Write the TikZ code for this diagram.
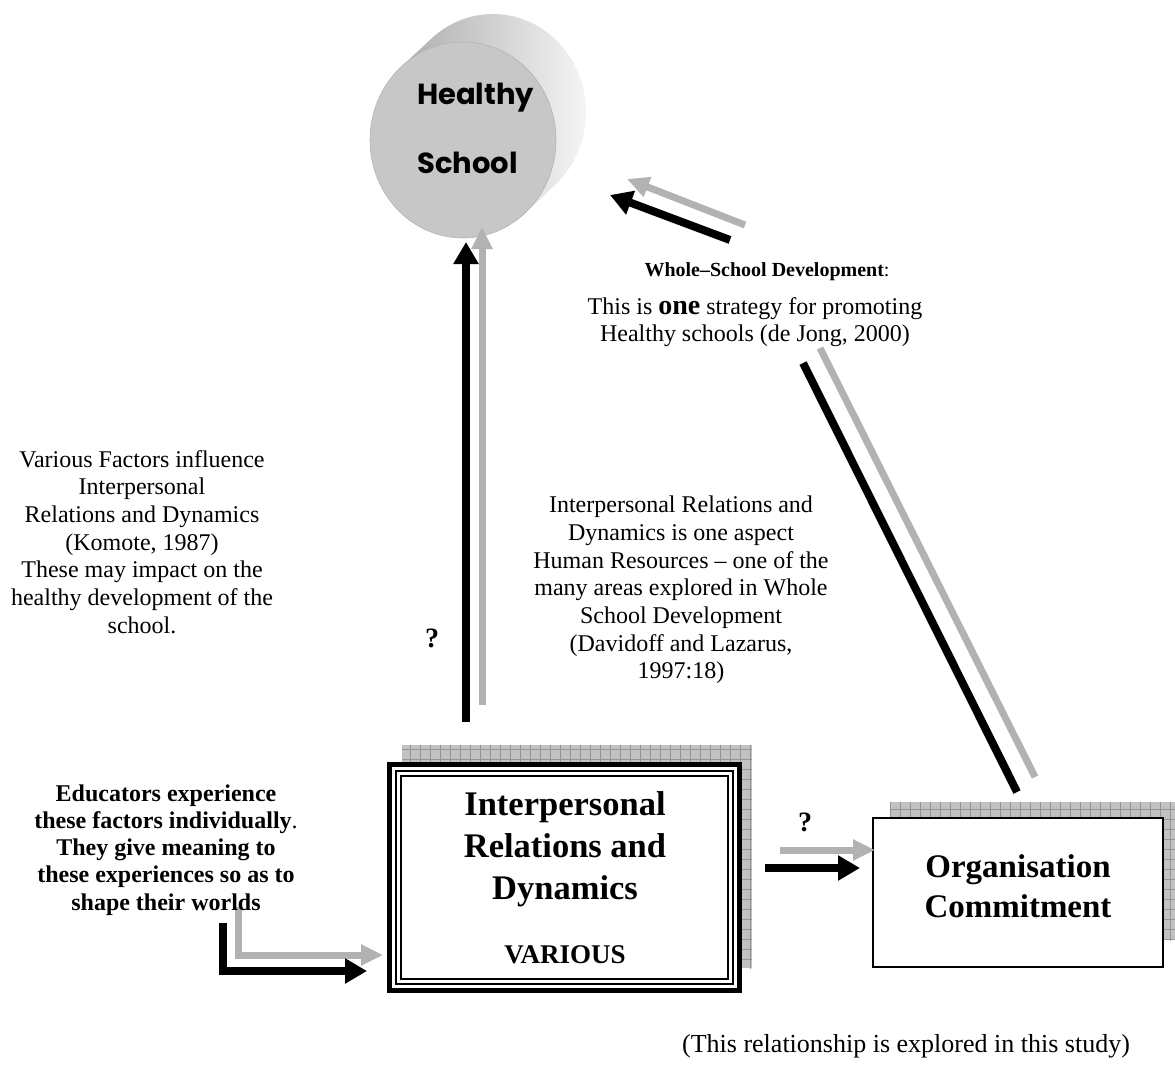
\documentclass[tikz,border=0pt]{standalone}
\usepackage{fontspec}
\setmainfont{Liberation Serif}
\newfontfamily\comicf{Poppins}
\usetikzlibrary{arrows.meta,patterns.meta}
\begin{document}
\begin{tikzpicture}[x=1pt,y=-1pt,
  blk/.style={line width=8pt, draw=black, -{Triangle[width=24pt,length=22pt]}},
  gry/.style={line width=7pt, draw=black!30, -{Triangle[width=20pt,length=22pt]}},
  blkline/.style={line width=8pt, draw=black},
  gryline/.style={line width=7pt, draw=black!30},
  shadowbox/.style={fill=black!24, postaction={pattern={Hatch[angle=0,distance=10pt,line width=0.5pt]}, pattern color=black!42}},
  txt/.style={align=center, inner sep=0pt, font=\fontsize{24}{27.7}\selectfont},
  btxt/.style={align=center, inner sep=0pt, font=\fontsize{24}{27.2}\selectfont\bfseries},
  bigtxt/.style={align=center, inner sep=0pt, font=\fontsize{34.5}{42}\selectfont\bfseries},
  hstxt/.style={anchor=west, inner sep=0pt, font=\fontsize{29}{32}\selectfont\comicf\bfseries},
  qmark/.style={inner sep=0pt, font=\fontsize{28}{28}\selectfont\bfseries}
]
\useasboundingbox (0,0) rectangle (1175,1079);

% ---------- Healthy School cylinder ----------
\shade[left color=black!32, right color=black!4]
  plot[domain=228.5:408.5, samples=80] ({493+93*cos(\x)}, {112+98*sin(\x)})
  -- plot[domain=408.5:228.5, samples=80] ({463+93*cos(\x)}, {140+98*sin(\x)}) -- cycle;
\fill[black!22] (463,140) ellipse [x radius=93pt, y radius=98pt];
\draw[black!30, line width=0.6pt] (463,140) ellipse [x radius=93pt, y radius=98pt];
\node[hstxt] (hs1) at (417,98) {Healthy};
\node[hstxt] (hs2) at (417,163) {School};
\coordinate (hs) at (463,140);

% ---------- Interpersonal box ----------
\fill[shadowbox] (402,745) rectangle (752,968);
\fill[white] (387,762) rectangle (742,993);
\draw[line width=5pt] (389.5,764.5) rectangle (739.5,990.5);
\draw[line width=2pt] (396,771) rectangle (733,984);
\draw[line width=1.2pt] (401,776) rectangle (728,979);
\node[bigtxt] (ipr) at (565,849) {Interpersonal\\Relations and\\Dynamics};
\node[align=center, inner sep=0pt, font=\fontsize{27}{30}\selectfont\bfseries] (various) at (565,955) {VARIOUS};

% ---------- Organisation Commitment box ----------
\fill[shadowbox] (890,802) rectangle (1175,940);
\draw[line width=2pt, fill=white] (873,818) rectangle (1163,967);
\node[align=center, inner sep=0pt, font=\fontsize{33}{40}\selectfont\bfseries] (oc) at (1018,886) {Organisation\\Commitment};

% ---------- arrow end coordinates ----------
\coordinate (vb1) at (466,722); \coordinate (vt1) at (466,242);
\coordinate (vb2) at (482,705); \coordinate (vt2) at (482,227);
\coordinate (wb1) at (730,240); \coordinate (wt1) at (610,195);
\coordinate (wb2) at (745,225); \coordinate (wt2) at (627,179);
\coordinate (db1) at (1017,792); \coordinate (dt1) at (803,363);
\coordinate (db2) at (1035,777); \coordinate (dt2) at (820,348);
\coordinate (hb1) at (765,868); \coordinate (he1) at (860,868);
\coordinate (hb2) at (780,850); \coordinate (he2) at (875,850);
\coordinate (eb1) at (223,923); \coordinate (ee1) at (367,971);
\coordinate (eb2) at (238,907); \coordinate (ee2) at (383,955);

% ---------- arrows ----------
\draw[gry] (vb2) -- (vt2);
\draw[blk] (vb1) -- (vt1);
\draw[gry] (wb2) -- (wt2);
\draw[blk] (wb1) -- (wt1);
\draw[gryline] (db2) -- (dt2);
\draw[blkline] (db1) -- (dt1);
\draw[gry] (hb2) -- (he2);
\draw[blk] (hb1) -- (he1);
\draw[gry] (eb2) |- (ee2);
\draw[blk] (eb1) |- (ee1);

% ---------- texts ----------
\node[inner sep=0pt, font=\fontsize{20}{24}\selectfont\bfseries] (wsd) at (767,272) {Whole--School Development\normalfont:};
\node[txt] (wsdt) at (755,322) {This is {\fontsize{28}{28}\selectfont\bfseries one} strategy for promoting\\Healthy schools (de Jong, 2000)};
\node[txt] (vf) at (142,542) {Various Factors influence\\Interpersonal\\Relations and Dynamics\\(Komote, 1987)\\These may impact on the\\healthy development of the\\school.};
\node[txt] (ird) at (681,590) {Interpersonal Relations and\\Dynamics is one aspect\\Human Resources -- one of the\\many areas explored in Whole\\School Development\\(Davidoff and Lazarus,\\1997:18)};
\node[btxt] (edu) at (166,850) {Educators experience\\these factors individually\normalfont.\\They give meaning to\\these experiences so as to\\shape their worlds};
\node[qmark] (q1) at (432,638) {?};
\node[qmark] (q2) at (805,822) {?};
\node[txt, font=\fontsize{26}{28}\selectfont] (study) at (906,1046) {(This relationship is explored in this study)};
\end{tikzpicture}
\end{document}
